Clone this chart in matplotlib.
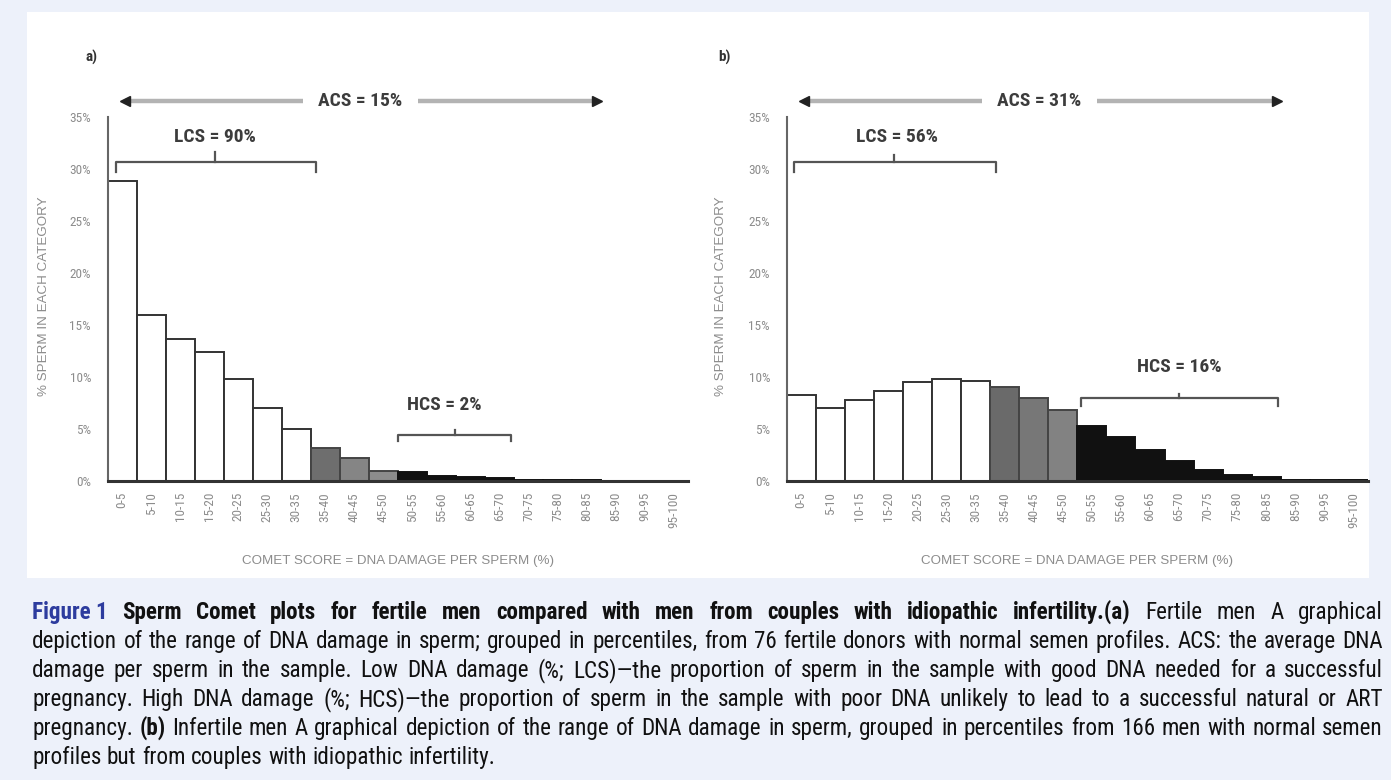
import numpy as np
import matplotlib
matplotlib.use('Agg')
import matplotlib.pyplot as plt
from matplotlib import font_manager as fm
from matplotlib.patches import Rectangle

# ---------------- data ----------------
categories = ['0-5', '5-10', '10-15', '15-20', '20-25', '25-30', '30-35', '35-40',
              '40-45', '45-50', '50-55', '55-60', '60-65', '65-70', '70-75', '75-80',
              '80-85', '85-90', '90-95', '95-100']
fertile_pct = [28.8, 16.0, 13.7, 12.4, 9.8, 7.0, 5.0, 3.2, 2.2, 1.0,
               0.9, 0.5, 0.35, 0.25, 0.1, 0.05, 0.05, 0.03, 0.02, 0.02]
infertile_pct = [8.3, 7.0, 7.8, 8.7, 9.5, 9.8, 9.6, 9.0, 8.0, 6.8,
                 5.3, 4.2, 3.0, 1.9, 1.1, 0.6, 0.4, 0.1, 0.05, 0.05]
damage_class = ['low'] * 7 + ['mid'] * 3 + ['high'] * 10
y_ticks = [0, 5, 10, 15, 20, 25, 30, 35]
y_tick_labels = ['0%', '5%', '10%', '15%', '20%', '25%', '30%', '35%']
panel_labels = ['a)', 'b)']
acs_labels = ['ACS = 15%', 'ACS = 31%']
lcs_labels = ['LCS = 90%', 'LCS = 56%']
hcs_labels = ['HCS = 2%', 'HCS = 16%']
x_title = 'COMET SCORE = DNA DAMAGE PER SPERM (%)'
y_title = '% SPERM IN EACH CATEGORY'

# ---------------- fonts ----------------
names = {f.name for f in fm.fontManager.ttflist}
def pick(cands):
    for c in cands:
        if c in names:
            return c
    return 'DejaVu Sans'
narrow = pick(['Liberation Sans Narrow', 'Roboto Condensed', 'Open Sans Condensed',
               'Liberation Sans', 'Roboto'])
regular = pick(['Liberation Sans', 'Roboto', 'DejaVu Sans'])
plt.rcParams['font.family'] = [narrow, 'DejaVu Sans']

W, H = 1391, 780
fig = plt.figure(figsize=(W / 100, H / 100), dpi=100)
fig.patch.set_facecolor('#edf1fa')
fig.patches.append(Rectangle((27 / W, 1 - 578 / H), (1369 - 27) / W, (578 - 12) / H,
                             transform=fig.transFigure, facecolor='white',
                             edgecolor='none', zorder=-5))

def fx(x):
    return x / W
def fy(y):
    return 1 - y / H

gray_a = ['#6e6e6e', '#858585', '#8c8c8c']
gray_b = ['#6a6a6a', '#777777', '#828282']

panels = [
    dict(left=107.7, right=688, vals=fertile_pct, grays=gray_a, lab_x=86,
         ylab_x=44,
         lcs=(0.29, 7.18, 3.7, 30.7, 29.75, 31.6, 3.7, 33.1),
         hcs=(10.0, 13.9, 11.96, 4.4, 3.8, 4.9, 11.6, 7.3)),
    dict(left=786.7, right=1368, vals=infertile_pct, grays=gray_b, lab_x=718,
         ylab_x=721,
         lcs=(0.25, 7.2, 3.7, 30.7, 29.75, 31.3, 3.78, 33.1),
         hcs=(10.12, 16.9, 13.5, 8.0, 7.2, 8.4, 13.5, 11.0)),
]

top_px, bot_px = 117, 481
for k, p in enumerate(panels):
    ax = fig.add_axes([fx(p['left']), fy(bot_px), (p['right'] - p['left']) / W,
                       (bot_px - top_px) / H])
    ax.set_facecolor('none')
    x = np.arange(len(categories)) + 0.5
    fcs, ecs = [], []
    gi = 0
    for c in damage_class:
        if c == 'low':
            fcs.append('white'); ecs.append('#333333')
        elif c == 'mid':
            fcs.append(p['grays'][gi]); ecs.append('#444444'); gi += 1
        else:
            fcs.append('#111111'); ecs.append('#111111')
    ax.bar(x, p['vals'], width=1.0, color=fcs, edgecolor=ecs, linewidth=1.4, zorder=2)
    ax.set_xlim(0, 20)
    ax.set_ylim(0, 35)
    ax.set_xticks(x)
    ax.set_xticklabels(categories, rotation=90, va='top', ha='center')
    ax.set_yticks(y_ticks)
    ax.set_yticklabels(y_tick_labels)
    ax.tick_params(axis='both', length=0, labelcolor='#8c8c8c', labelsize=9.5)
    ax.tick_params(axis='x', pad=8)
    ax.tick_params(axis='y', pad=12)
    for s in ['top', 'right']:
        ax.spines[s].set_visible(False)
    ax.spines['left'].set_color('#666666')
    ax.spines['left'].set_linewidth(1.5)
    ax.spines['bottom'].set_color('#333333')
    ax.spines['bottom'].set_linewidth(2.2)
    ax.spines['bottom'].set_zorder(3)

    # ACS arrow
    ax.plot([0.6, 16.87], [36.5, 36.5], color='#b3b3b3', lw=3.2, clip_on=False,
            solid_capstyle='butt', zorder=4)
    ax.plot([0.6], [36.5], marker='<', color='#222222', ms=7, clip_on=False, zorder=5)
    ax.plot([16.87], [36.5], marker='>', color='#222222', ms=7, clip_on=False, zorder=5)
    ax.text(8.7, 36.5, acs_labels[k], ha='center', va='center', fontsize=14,
            fontweight='bold', color='#3c3c3c', zorder=6, clip_on=False,
            bbox=dict(facecolor='white', edgecolor='none', pad=11))

    # brackets
    for (x0, x1, xc, yb, ye, yt, tx, ty), lab in [(p['lcs'], lcs_labels[k]),
                                                 (p['hcs'], hcs_labels[k])]:
        ax.plot([x0, x0, x1, x1], [ye, yb, yb, ye], color='#555555', lw=1.6,
                clip_on=False, zorder=4)
        ax.plot([xc, xc], [yb, yt], color='#555555', lw=1.6, clip_on=False, zorder=4)
        ax.text(tx, ty, lab, ha='center', va='center', fontsize=14,
                fontweight='bold', color='#3c3c3c', zorder=6, clip_on=False)

    # titles
    fig.text(fx((p['left'] + p['right']) / 2), fy(561), x_title, ha='center',
             va='center', fontsize=9.6, color='#8c8c8c', family=[regular])
    fig.text(fx(p['ylab_x']), fy(296), y_title, ha='center', va='center',
             rotation=90, fontsize=9.6, color='#8c8c8c', family=[regular])
    fig.text(fx(p['lab_x']), fy(57), panel_labels[k], ha='left', va='center',
             fontsize=11, fontweight='bold', color='#333333')

# ---------------- caption ----------------
blue = '#2d3c9e'
cap_lines = [
    [('Figure 1', 'blue'),
     ('Sperm Comet plots for fertile men compared with men from couples with idiopathic infertility.(a)', 'bold'),
     ('Fertile men A graphical', 'normal')],
    [('depiction of the range of DNA damage in sperm; grouped in percentiles, from 76 fertile donors with normal semen profiles. ACS: the average DNA', 'normal')],
    [('damage per sperm in the sample. Low DNA damage (%; LCS)\u2014the proportion of sperm in the sample with good DNA needed for a successful', 'normal')],
    [('pregnancy. High DNA damage (%; HCS)\u2014the proportion of sperm in the sample with poor DNA unlikely to lead to a successful natural or ART', 'normal')],
    [('pregnancy.', 'normal'), ('(b)', 'bold'),
     ('Infertile men A graphical depiction of the range of DNA damage in sperm, grouped in percentiles from 166 men with normal semen', 'normal')],
    [('profiles but from couples with idiopathic infertility.', 'normal')],
]
cap_base = [619, 648, 677, 706, 735, 764]
cap_x0, cap_x1 = 32, 1383
avail = cap_x1 - cap_x0

tokens = []
for line in cap_lines:
    toks = []
    for seg, st in line:
        if st == 'blue':
            toks.append((seg, st))
        else:
            toks.extend((w, st) for w in seg.split(' '))
    tokens.append(toks)

renderer = fig.canvas.get_renderer()
def style_kw(st, fs):
    if st == 'blue':
        return dict(fontsize=fs, fontweight='bold', color=blue)
    if st == 'bold':
        return dict(fontsize=fs, fontweight='bold', color='#111111')
    return dict(fontsize=fs, fontweight='normal', color='#111111')

def widths(toks, fs):
    out = []
    for w, st in toks:
        t = fig.text(0, 0, w, **style_kw(st, fs))
        out.append(t.get_window_extent(renderer).width)
        t.remove()
    return out

fs = 14.0
space = lambda f: 0.24 * f * 100 / 72
nat = [sum(widths(t, fs)) + (len(t) - 1) * space(fs) for t in tokens[:-1]]
fs = min(fs * avail / max(nat) * 0.99, 17.0)

for i, toks in enumerate(tokens):
    ws = widths(toks, fs)
    if i < len(tokens) - 1 and len(toks) > 1:
        gap = (avail - sum(ws)) / (len(toks) - 1)
    else:
        gap = space(fs)
    xpos = cap_x0
    for (w, st), wd in zip(toks, ws):
        fig.text(fx(xpos), fy(cap_base[i]), w, ha='left', va='baseline',
                 **style_kw(st, fs))
        xpos += wd + gap

fig.savefig('out.png', dpi=100, facecolor=fig.get_facecolor())
